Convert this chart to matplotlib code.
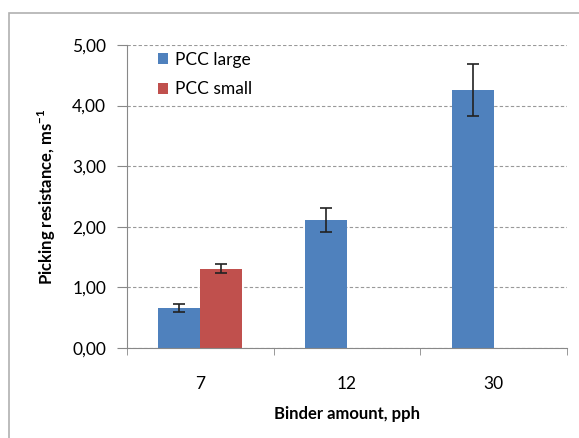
import matplotlib.pyplot as plt
import matplotlib.patches as patches
import numpy as np

plt.rcParams['font.family'] = ['Lato', 'DejaVu Sans']
plt.rcParams['mathtext.fontset'] = 'custom'
plt.rcParams['mathtext.bf'] = 'Lato:bold'
plt.rcParams['mathtext.rm'] = 'Lato'

categories = ["7", "12", "30"]
large_values = [0.66, 2.11, 4.26]
large_err = [0.07, 0.20, 0.43]
small_values = [1.31, None, None]
small_err = [0.07, None, None]

blue = "#4F81BD"
red = "#C0504D"

fig = plt.figure(figsize=(5.79, 4.38), dpi=100)
ax = fig.add_axes([127 / 579, (438 - 348) / 438, 440 / 579, 303 / 438])

# outer chart frame
fig.patches.append(patches.Rectangle((9 / 579, -0.1), 1.2, (438 - 13) / 438 + 0.1,
                                     transform=fig.transFigure, fill=False,
                                     edgecolor="#b0b0b0", linewidth=1.2))

x = np.arange(len(categories))
w = 0.286

ax.bar(x - w / 2, large_values, w, color=blue, label="PCC large", zorder=2)
ax.errorbar(x - w / 2, large_values, yerr=large_err, fmt="none", ecolor="#222222",
            elinewidth=1.2, capsize=4, capthick=1.2, zorder=3)

sx = [i for i, v in enumerate(small_values) if v is not None]
sv = [small_values[i] for i in sx]
se = [small_err[i] for i in sx]
ax.bar(np.array(sx) + w / 2, sv, w, color=red, label="PCC small", zorder=2)
ax.errorbar(np.array(sx) + w / 2, sv, yerr=se, fmt="none", ecolor="#222222",
            elinewidth=1.2, capsize=4, capthick=1.2, zorder=3)

ax.set_xlim(-0.5, 2.5)
ax.set_ylim(0, 5)
ax.set_yticks(np.arange(0, 5.01, 1))
ax.set_yticklabels([f"{v:.2f}".replace(".", ",") for v in np.arange(0, 5.01, 1)], fontsize=12.5)
ax.set_xticks(x)
ax.set_xticklabels(categories, fontsize=12.5)
ax.tick_params(axis="x", length=0, pad=20)
ax.set_xticks([-0.5, 0.5, 1.5, 2.5], minor=True)
ax.tick_params(axis="x", which="minor", length=5, color="#888888")
ax.tick_params(axis="y", length=7, color="#888888", pad=8)

ax.yaxis.grid(True, linestyle=(0, (3, 2)), color="#999999", linewidth=0.8, zorder=0)
ax.set_axisbelow(True)
for s in ["top", "right"]:
    ax.spines[s].set_visible(False)
for s in ["left", "bottom"]:
    ax.spines[s].set_color("#888888")

ax.set_ylabel(r"Picking resistance, ms$^{\mathbf{-1}}$", fontsize=12, fontweight="bold", labelpad=10)
ax.set_xlabel("Binder amount, pph", fontsize=12, fontweight="bold", labelpad=10)

ax.legend(loc="upper left", bbox_to_anchor=(0.035, 1.03), frameon=False, fontsize=12.5,
          handlelength=0.6, handleheight=0.6, handletextpad=0.4, labelspacing=0.8)

fig.savefig("out.png", dpi=100)
